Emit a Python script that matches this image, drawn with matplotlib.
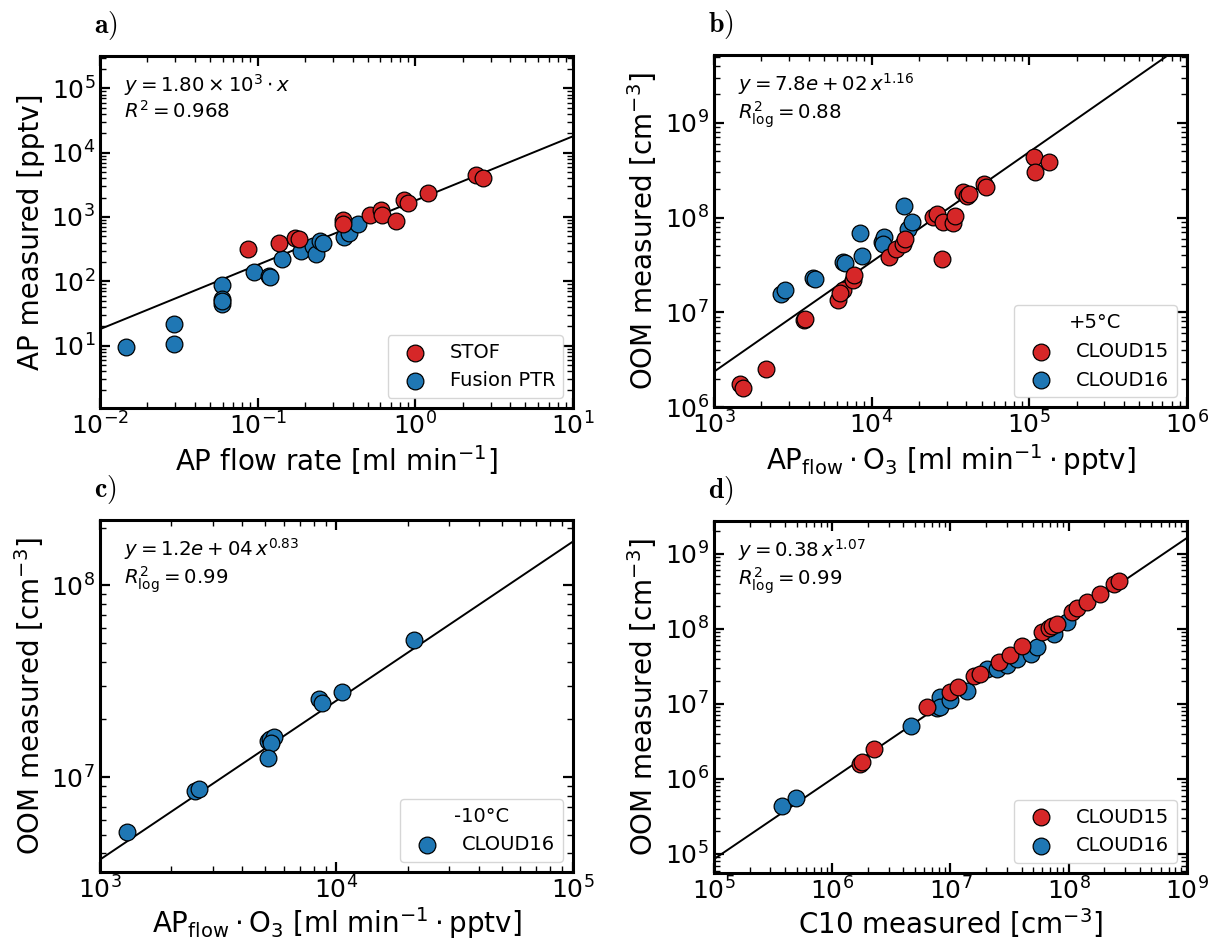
import numpy as np
import matplotlib
matplotlib.use("Agg")
import matplotlib.pyplot as plt
from matplotlib.ticker import LogLocator, NullFormatter

# ---------------- data ----------------
# Panel a: AP flow rate [ml/min] vs AP measured [pptv]
a_stof_x = [0.087, 0.136, 0.173, 0.183, 0.347, 0.35, 0.519, 0.607, 0.612, 0.759, 0.848, 0.903, 1.21, 2.42, 2.69]
a_stof_y = [313, 393, 466, 458, 887, 787, 1070, 1290, 1062, 877, 1840, 1670, 2350, 4470, 3980]
a_ptr_x = [0.0146, 0.0294, 0.0294, 0.0594, 0.0594, 0.0594, 0.0594, 0.0944, 0.118, 0.12, 0.142,
           0.188, 0.224, 0.235, 0.249, 0.26, 0.351, 0.382, 0.433]
a_ptr_y = [9.5, 21.8, 10.7, 89, 53, 43.6, 50, 141, 120, 117, 219,
           292, 353, 264, 422, 390, 492, 570, 769]
a_fit_k = 1.80e3

# Panel b: AP_flow*O3 vs OOM measured, +5 C
b_c15_x = [1470, 1530, 2130, 3720, 3800, 6140, 6610, 6300, 7640, 7760, 1.29e4, 1.42e4, 1.59e4, 1.62e4,
           2.44e4, 2.61e4, 2.85e4, 3.3e4, 3.39e4, 2.81e4, 3.78e4, 4.02e4, 4.17e4, 5.2e4, 5.3e4,
           1.08e5, 1.09e5, 1.33e5]
b_c15_y = [1.73e6, 1.6e6, 2.5e6, 8.3e6, 8.5e6, 1.35e7, 1.7e7, 1.6e7, 2.2e7, 2.5e7, 3.85e7, 4.7e7, 5.3e7, 6.0e7,
           1.02e8, 1.1e8, 9.0e7, 8.7e7, 1.04e8, 3.64e7, 1.87e8, 1.68e8, 1.79e8, 2.25e8, 2.1e8,
           4.37e8, 3.0e8, 3.9e8]
b_c16_x = [2650, 2840, 4270, 4400, 6610, 6760, 8500, 8720, 1.17e4, 1.2e4, 1.18e4, 1.6e4, 1.71e4, 1.81e4]
b_c16_y = [1.57e7, 1.71e7, 2.3e7, 2.26e7, 3.4e7, 3.3e7, 6.8e7, 3.9e7, 5.5e7, 6.3e7, 5.2e7, 1.32e8, 7.5e7, 9.0e7]
b_fit_a, b_fit_b = 7.8e2, 1.16

# Panel c: AP_flow*O3 vs OOM measured, -10 C
c_c16_x = [1297, 2520, 2630, 5120, 5250, 5420, 5300, 5130, 8400, 8690, 1.06e4, 2.12e4]
c_c16_y = [5.16e6, 8.5e6, 8.66e6, 1.54e7, 1.57e7, 1.61e7, 1.5e7, 1.26e7, 2.54e7, 2.44e7, 2.77e7, 5.18e7]
c_fit_a, c_fit_b = 1.2e4, 0.83

# Panel d: C10 measured vs OOM measured
d_c15_x = [1.71e6, 1.78e6, 2.24e6, 6.3e6, 1.0e7, 1.17e7, 1.57e7, 1.77e7, 2.57e7, 3.2e7, 4.0e7, 5.96e7,
           6.8e7, 7.3e7, 7.9e7, 1.07e8, 1.17e8, 1.43e8, 1.86e8, 2.42e8, 2.67e8]
d_c15_y = [1.57e6, 1.69e6, 2.5e6, 9.0e6, 1.43e7, 1.66e7, 2.35e7, 2.5e7, 3.6e7, 4.5e7, 5.9e7, 9.1e7,
           1.03e8, 1.08e8, 1.15e8, 1.68e8, 1.9e8, 2.29e8, 2.93e8, 4.0e8, 4.3e8]
d_c16_x = [3.8e5, 4.9e5, 4.64e6, 7.7e6, 8.2e6, 8.2e6, 1.0e7, 1.38e7, 2.04e7, 2.48e7, 3.0e7, 3.67e7,
           4.76e7, 5.4e7, 7.5e7, 9.7e7]
d_c16_y = [4.4e5, 5.5e5, 5.0e6, 8.7e6, 1.22e7, 9.0e6, 1.12e7, 1.5e7, 2.9e7, 2.9e7, 3.24e7, 4.0e7,
           4.66e7, 5.7e7, 8.6e7, 1.23e8]
d_fit_a, d_fit_b = 0.38, 1.07

# ---------------- style ----------------
RED = "#d62728"
BLUE = "#1f77b4"
MS = 145
LABFS = 20
plt.rcParams["font.family"] = ["DejaVu Sans"]

fig = plt.figure(figsize=(12.08, 9.4), dpi=100)
W, H = 0.3915, 0.3745
ax_a = fig.add_axes([0.0828, 0.566, W, H])
ax_b = fig.add_axes([0.591, 0.567, W, H])
ax_c = fig.add_axes([0.0828, 0.0725, W, H])
ax_d = fig.add_axes([0.591, 0.0715, W, H])


def style(ax):
    ax.set_xscale("log")
    ax.set_yscale("log")
    for s in ax.spines.values():
        s.set_linewidth(2.2)
    ax.tick_params(which="both", direction="in", top=True, right=True, labelsize=18)
    ax.tick_params(which="major", length=7, width=1.6)
    ax.tick_params(which="minor", length=4, width=1.0)
    ax.xaxis.set_major_locator(LogLocator(base=10, numticks=20))
    ax.yaxis.set_major_locator(LogLocator(base=10, numticks=20))
    ax.xaxis.set_minor_locator(LogLocator(base=10, subs=np.arange(2, 10), numticks=100))
    ax.yaxis.set_minor_locator(LogLocator(base=10, subs=np.arange(2, 10), numticks=100))
    ax.xaxis.set_minor_formatter(NullFormatter())
    ax.yaxis.set_minor_formatter(NullFormatter())


def panel_label(ax, s):
    ax.text(-0.012, 1.04, r"$\mathbf{%s)}$" % s, transform=ax.transAxes, fontsize=20,
            math_fontfamily="cm", ha="left", va="bottom")


def annot(ax, s):
    ax.text(0.05, 0.955, s, transform=ax.transAxes, fontsize=14.2, va="top", ha="left",
            linespacing=1.15)


def scat(ax, x, y, c, label):
    return ax.scatter(x, y, s=MS, c=c, edgecolors="black", linewidths=0.9, label=label, zorder=3)


xlab_ap = r"AP$_{\rm flow}\cdot$O$_3$ [ml min$^{-1}\cdot$pptv]"
ylab_oom = r"OOM measured [cm$^{-3}$]"

# ---- a ----
ax = ax_a
style(ax)
xl = (1e-2, 1e1)
xs = np.logspace(np.log10(xl[0]), np.log10(xl[1]), 50)
ax.plot(xs, a_fit_k * xs, color="black", lw=1.4, zorder=2)
h2 = scat(ax, a_ptr_x, a_ptr_y, BLUE, "Fusion PTR")
h1 = scat(ax, a_stof_x, a_stof_y, RED, "STOF")
ax.set_xlim(*xl)
ax.set_ylim(1.07, 3.2e5)
ax.set_xlabel(r"AP flow rate [ml min$^{-1}$]", fontsize=LABFS, labelpad=2)
ax.set_ylabel("AP measured [pptv]", fontsize=LABFS)
ax.legend(handles=[h1, h2], loc="lower right", fontsize=14)
annot(ax, "$y = 1.80 \\times 10^{3} \\cdot x$\n$R^2 = 0.968$")
panel_label(ax, "a")

# ---- b ----
ax = ax_b
style(ax)
xl = (1e3, 1e6)
xs = np.logspace(np.log10(xl[0]), np.log10(xl[1]), 50)
ax.plot(xs, b_fit_a * xs ** b_fit_b, color="black", lw=1.4, zorder=2)
h2 = scat(ax, b_c16_x, b_c16_y, BLUE, "CLOUD16")
h1 = scat(ax, b_c15_x, b_c15_y, RED, "CLOUD15")
ax.set_xlim(*xl)
ax.set_ylim(1e6, 5.2e9)
ax.set_xlabel(xlab_ap, fontsize=LABFS, labelpad=2)
ax.set_ylabel(ylab_oom, fontsize=LABFS)
ax.legend(handles=[h1, h2], loc="lower right", fontsize=14, title="+5°C", title_fontsize=14)
annot(ax, "$y = 7.8e+02\\,x^{1.16}$\n$R^2_{\\rm log} = 0.88$")
panel_label(ax, "b")

# ---- c ----
ax = ax_c
style(ax)
xl = (1e3, 1e5)
xs = np.logspace(np.log10(xl[0]), np.log10(xl[1]), 50)
ax.plot(xs, c_fit_a * xs ** c_fit_b, color="black", lw=1.4, zorder=2)
h1 = scat(ax, c_c16_x, c_c16_y, BLUE, "CLOUD16")
ax.set_xlim(*xl)
ax.set_ylim(3.2e6, 2.2e8)
ax.set_xlabel(xlab_ap, fontsize=LABFS, labelpad=1)
ax.set_ylabel(ylab_oom, fontsize=LABFS)
ax.legend(handles=[h1], loc="lower right", fontsize=14, title="-10°C", title_fontsize=14)
annot(ax, "$y = 1.2e+04\\,x^{0.83}$\n$R^2_{\\rm log} = 0.99$")
panel_label(ax, "c")

# ---- d ----
ax = ax_d
style(ax)
xl = (1e5, 1e9)
xs = np.logspace(np.log10(xl[0]), np.log10(xl[1]), 50)
ax.plot(xs, d_fit_a * xs ** d_fit_b, color="black", lw=1.4, zorder=2)
h2 = scat(ax, d_c16_x, d_c16_y, BLUE, "CLOUD16")
h1 = scat(ax, d_c15_x, d_c15_y, RED, "CLOUD15")
ax.set_xlim(*xl)
ax.set_ylim(5.6e4, 2.75e9)
ax.set_xlabel(r"C10 measured [cm$^{-3}$]", fontsize=LABFS, labelpad=1)
ax.set_ylabel(ylab_oom, fontsize=LABFS)
ax.legend(handles=[h1, h2], loc="lower right", fontsize=14)
annot(ax, "$y = 0.38\\,x^{1.07}$\n$R^2_{\\rm log} = 0.99$")
panel_label(ax, "d")

fig.savefig("out.png", dpi=100)
